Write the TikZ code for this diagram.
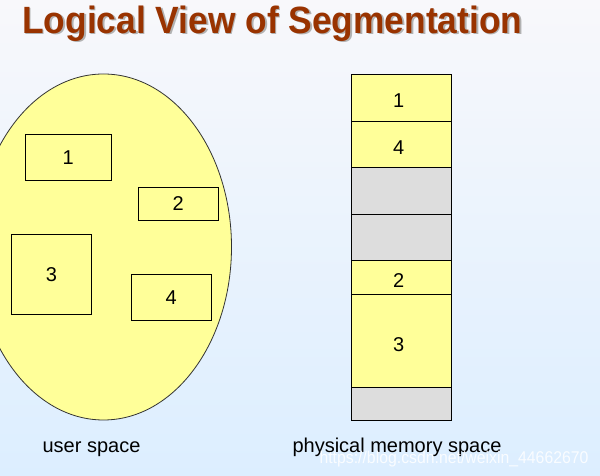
\documentclass[tikz,border=0pt]{standalone}
\usepackage{fontspec}
\setmainfont{Liberation Sans}
\usetikzlibrary{shapes.geometric}
\definecolor{titlered}{HTML}{993300}
\definecolor{segyellow}{HTML}{FFFF99}
\definecolor{freegray}{HTML}{DDDDDD}
\definecolor{bgtop}{HTML}{F8F8FB}
\definecolor{bgbot}{HTML}{DCEEFF}
\newcommand{\titletext}{\resizebox{500pt}{\height}{\fontsize{38}{38}\selectfont\bfseries Logical View of Segmentation}}
\tikzset{
  seg/.style={draw=black, line width=0.9pt, fill=segyellow, inner sep=0pt, font=\fontsize{20}{20}\selectfont},
  cell/.style={seg, anchor=north west, minimum width=100pt, text height=20pt, text depth=0pt, execute at begin node={\hspace*{-6pt}}},
  holecell/.style={cell, fill=freegray},
  lbl/.style={font=\fontsize{20}{20}\selectfont, inner sep=0pt, anchor=base},
}
\begin{document}
\begin{tikzpicture}[x=1pt,y=1pt]
\useasboundingbox (0,0) rectangle (600,476);
\clip (0,0) rectangle (600,476);
\shade[top color=bgtop, bottom color=bgbot] (0,0) rectangle (600,476);
% title
\node[text=black!30, inner sep=0pt, anchor=base] (titleshadow) at (274,441) {\titletext};
\node[text=titlered, inner sep=0pt, anchor=base] (title) at (272.3,442.7) {\titletext};
% user space ellipse
\node[ellipse, draw=black!80, line width=0.8pt, fill=segyellow, minimum width=256pt, minimum height=346pt, inner sep=0pt] (space) at (103.5,229) {};
\node[seg, minimum width=86pt, minimum height=46pt] (u1) at (68.3,318.7) {1};
\node[seg, minimum width=80pt, minimum height=33pt] (u2) at (178.3,272.2) {2};
\node[seg, minimum width=80pt, minimum height=80pt] (u3) at (51.5,201.8) {3};
\node[seg, minimum width=80pt, minimum height=46pt] (u4) at (171.3,178.7) {4};
% physical memory
\node[cell, minimum height=46.4pt] (m1) at (351.3,401.7) {1};
\node[cell, minimum height=46.6pt] (m4) at (351.3,355.3) {4};
\node[holecell, minimum height=46.4pt] (m5) at (351.3,308.7) {};
\node[holecell, minimum height=46.6pt] (m6) at (351.3,262.3) {};
\node[cell, minimum height=34pt] (m2) at (351.3,215.7) {2};
\node[cell, minimum height=93pt] (m3) at (351.3,181.7) {3};
\node[holecell, minimum height=32.7pt] (m7) at (351.3,88.7) {};
% labels
\node[lbl] (ulabel) at (91.5,23.3) {user space};
\node[lbl] (plabel) at (397,23.3) {physical memory space};
\node[text=white, opacity=0.85, inner sep=0pt, anchor=base west] (wm) at (319.3,12.7) {\resizebox{269pt}{\height}{\fontsize{17}{17}\selectfont https://blog.csdn.net/weixin\_44662670}};
\end{tikzpicture}
\end{document}
